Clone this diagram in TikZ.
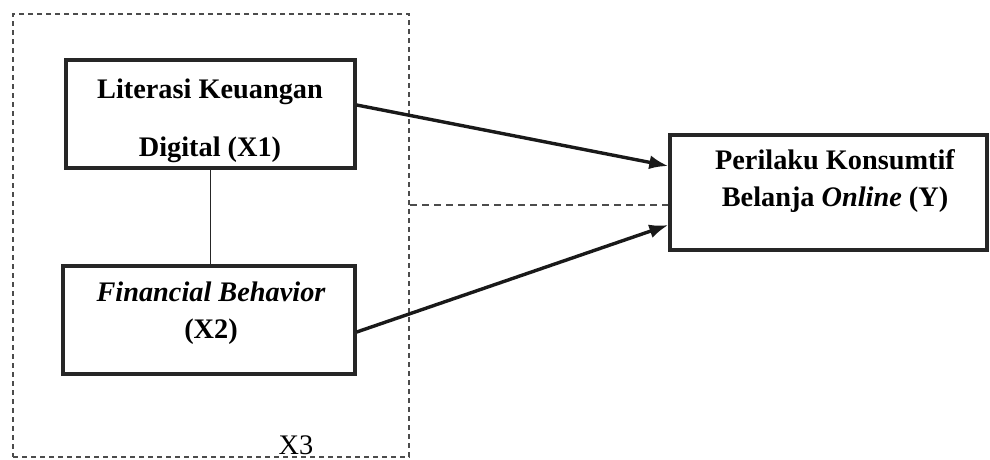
\documentclass[tikz,border=0pt]{standalone}
\usepackage{fontspec}
\setmainfont{Liberation Serif}
\usetikzlibrary{arrows.meta}
\begin{document}
\begin{tikzpicture}[x=1pt,y=-1pt,
  box/.style={draw=black!85, line width=3.4pt, rectangle, inner sep=0pt},
  txt/.style={anchor=base, inner sep=0pt, font=\fontsize{28.3}{34}\selectfont\bfseries},
  arr/.style={draw=black!90, line width=3.4pt, -{Latex[length=19pt,width=14pt]}},
  dashbox/.style={draw=black!70, line width=2pt, dash pattern=on 5pt off 4pt, rectangle, inner sep=0pt},
  dashln/.style={draw=black!70, line width=2pt, dash pattern=on 7pt off 5pt},
  thin/.style={draw=black!85, line width=1.6pt}]
\useasboundingbox (0,0) rectangle (990,459);
\fill[white] (0,0) rectangle (990,459);
% group box X3
\node[dashbox, minimum width=396pt, minimum height=443pt] (x3box) at (211,235.5) {};
% boxes
\node[box, minimum width=289pt, minimum height=108pt] (x1) at (210.5,114) {};
\node[box, minimum width=292pt, minimum height=108pt] (x2) at (209,320) {};
\node[box, minimum width=317pt, minimum height=115pt] (y) at (828.5,192.5) {};
% texts
\node[txt] (x1a) at (210,98) {Literasi Keuangan};
\node[txt] (x1b) at (210,156) {Digital (X1)};
\node[txt] (x2a) at (211,301) {\itshape Financial Behavior};
\node[txt] (x2b) at (211,338) {(X2)};
\node[txt] (ya) at (835,169) {Perilaku Konsumtif};
\node[txt] (yb) at (835,206) {Belanja \textit{Online} (Y)};
\node[anchor=base, inner sep=0pt, font=\fontsize{28.3}{34}\selectfont] (x3) at (296,454) {X3};
% connectors
\draw[thin] (x1.south) -- (x1.south |- x2.north);
\draw[arr] ([yshift=9pt]x1.east) -- ([yshift=26.5pt]y.west);
\draw[arr] ([yshift=-12pt]x2.east) -- ([yshift=-32.5pt]y.west);
\coordinate (m) at (x3box.east |- 0,205);
\draw[dashln] (m) -- (m -| y.west);
\end{tikzpicture}
\end{document}
